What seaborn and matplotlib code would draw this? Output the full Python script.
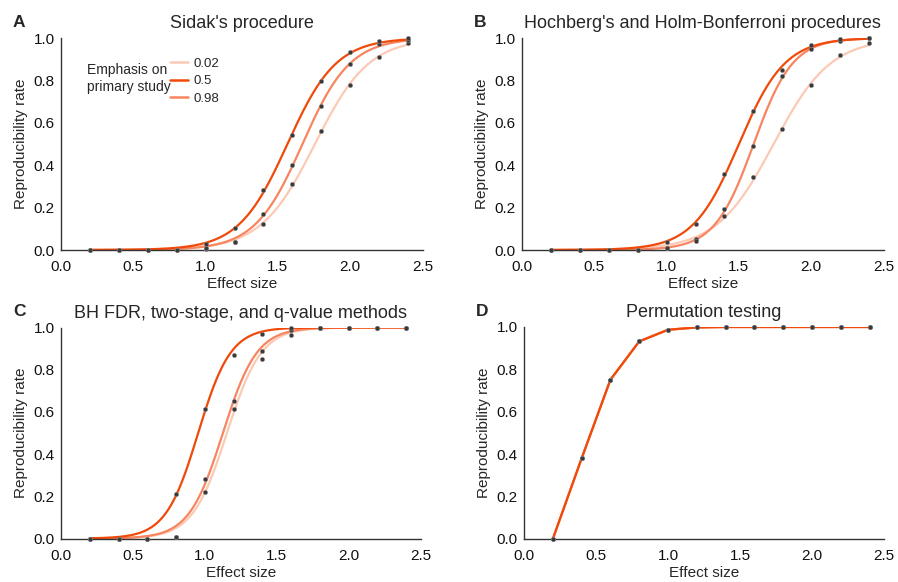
import numpy as np
import pandas as pd
import matplotlib
matplotlib.use("Agg")
import matplotlib.pyplot as plt
import seaborn as sns

# ---------------- data ----------------
effect_size = [0.2, 0.4, 0.6, 0.8, 1.0, 1.2, 1.4, 1.6, 1.8, 2.0, 2.2, 2.4]
emphasis_levels = ["0.02", "0.5", "0.98"]

sidak_002 = [0, 0, 0, 0, 0.005, 0.040, 0.123, 0.313, 0.560, 0.778, 0.909, 0.975]
sidak_05 = [0, 0, 0, 0, 0.027, 0.102, 0.283, 0.541, 0.797, 0.936, 0.984, 0.998]
sidak_098 = [0, 0, 0, 0, 0.010, 0.040, 0.170, 0.400, 0.679, 0.879, 0.970, 0.990]

hoch_002 = [0, 0, 0, 0, 0.008, 0.050, 0.160, 0.342, 0.569, 0.779, 0.920, 0.976]
hoch_05 = [0, 0, 0, 0, 0.036, 0.122, 0.357, 0.654, 0.850, 0.967, 0.995, 1.000]
hoch_098 = [0, 0, 0, 0, 0.008, 0.044, 0.193, 0.489, 0.820, 0.948, 0.988, 1.000]

bh_002 = [0, 0, 0, 0.005, 0.221, 0.616, 0.853, 0.964, 0.998, 1.0, 1.0, 1.0]
bh_05 = [0, 0, 0, 0.209, 0.616, 0.872, 0.970, 0.998, 1.0, 1.0, 1.0, 1.0]
bh_098 = [0, 0, 0, 0.005, 0.283, 0.652, 0.888, 0.990, 1.0, 1.0, 1.0, 1.0]

perm_002 = [0, 0.380, 0.751, 0.932, 0.987, 0.998, 1.0, 1.0, 1.0, 1.0, 1.0, 1.0]
perm_05 = [0, 0.380, 0.751, 0.932, 0.987, 0.998, 1.0, 1.0, 1.0, 1.0, 1.0, 1.0]
perm_098 = [0, 0.380, 0.751, 0.932, 0.987, 0.998, 1.0, 1.0, 1.0, 1.0, 1.0, 1.0]

panel_letters = ["A", "B", "C", "D"]
panel_titles = ["Sidak's procedure",
                "Hochberg's and Holm-Bonferroni procedures",
                "BH FDR, two-stage, and q-value methods",
                "Permutation testing"]
panel_series = [
    {"0.02": sidak_002, "0.5": sidak_05, "0.98": sidak_098},
    {"0.02": hoch_002, "0.5": hoch_05, "0.98": hoch_098},
    {"0.02": bh_002, "0.5": bh_05, "0.98": bh_098},
    {"0.02": perm_002, "0.5": perm_05, "0.98": perm_098},
]
smooth_fit = [True, True, True, False]
legend_title = "Emphasis on\nprimary study"

# ---------------- style ----------------
palette = {"0.02": "#fcc9b5", "0.5": "#f04a0a", "0.98": "#f7855f"}
draw_order = ["0.02", "0.98", "0.5"]

sns.set_style("white")
plt.rcParams["font.family"] = ["Liberation Sans", "DejaVu Sans"]
plt.rcParams["axes.edgecolor"] = "#333333"
plt.rcParams["axes.linewidth"] = 1.0


def logistic_fit(x, y):
    x = np.asarray(x, float)
    y = np.asarray(y, float)
    x0s = np.arange(0.3, 2.6, 0.002)
    ks = np.arange(1.0, 30.0, 0.02)
    X0, K = np.meshgrid(x0s, ks, indexing="ij")
    pred = 1.0 / (1.0 + np.exp(-K[..., None] * (x[None, None, :] - X0[..., None])))
    sse = ((pred - y[None, None, :]) ** 2).sum(-1)
    i, j = np.unravel_index(np.argmin(sse), sse.shape)
    return x0s[i], ks[j]


fig = plt.figure(figsize=(8.98, 5.82), dpi=100)
W, H = 898.0, 582.0
rects = [
    (61 / W, 1 - 250 / H, 361.5 / W, 212 / H),
    (522 / W, 1 - 250 / H, 361.5 / W, 212 / H),
    (61 / W, 1 - 538.5 / H, 359.5 / W, 211 / H),
    (524 / W, 1 - 539 / H, 360 / W, 212 / H),
]

for idx in range(4):
    ax = fig.add_axes(rects[idx])
    series = panel_series[idx]
    for lev in draw_order:
        yv = series[lev]
        if smooth_fit[idx]:
            x0, k = logistic_fit(effect_size, yv)
            xs = np.linspace(effect_size[0], effect_size[-1], 300)
            ys = 1.0 / (1.0 + np.exp(-k * (xs - x0)))
            df = pd.DataFrame({"x": xs, "y": ys})
        else:
            df = pd.DataFrame({"x": effect_size, "y": yv})
        sns.lineplot(data=df, x="x", y="y", ax=ax, color=palette[lev],
                     linewidth=1.6, label=lev, legend=False, zorder=2)
    for lev in draw_order:
        dfp = pd.DataFrame({"x": effect_size, "y": series[lev]})
        sns.scatterplot(data=dfp, x="x", y="y", ax=ax, color="#3a3a3a",
                        s=10, edgecolor="#999999", linewidth=0.3,
                        legend=False, zorder=3, clip_on=False)
    ax.set_xlim(0, 2.5)
    ax.set_ylim(0, 1.0)
    ax.set_xticks([0.0, 0.5, 1.0, 1.5, 2.0, 2.5])
    ax.set_yticks([0.0, 0.2, 0.4, 0.6, 0.8, 1.0])
    ax.tick_params(axis="both", length=0, labelsize=11, colors="#111111")
    ax.tick_params(axis="x", pad=7.5)
    ax.tick_params(axis="y", pad=4.5)
    ax.set_xlabel("Effect size", fontsize=11, labelpad=2)
    ax.set_ylabel("Reproducibility rate", fontsize=11, labelpad=4)
    sns.despine(ax=ax)
    ax.set_title(panel_titles[idx], fontsize=13, pad=7)
    ax.text(-0.133, 1.075, panel_letters[idx], transform=ax.transAxes,
            fontsize=12.5, fontweight="bold", ha="left", va="center")

    if idx == 0:
        handles = [plt.Line2D([], [], color=palette[l], linewidth=1.8)
                   for l in emphasis_levels]
        ax.legend(handles, emphasis_levels, loc="upper left",
                  bbox_to_anchor=(0.276, 0.95), frameon=False, fontsize=9.5,
                  handlelength=1.35, handletextpad=0.4, labelspacing=0.38,
                  borderpad=0.2)
        ax.text(0.072, 0.81, legend_title, transform=ax.transAxes,
                fontsize=10, ha="left", va="center", linespacing=1.25)

fig.savefig("out.png", dpi=100)
